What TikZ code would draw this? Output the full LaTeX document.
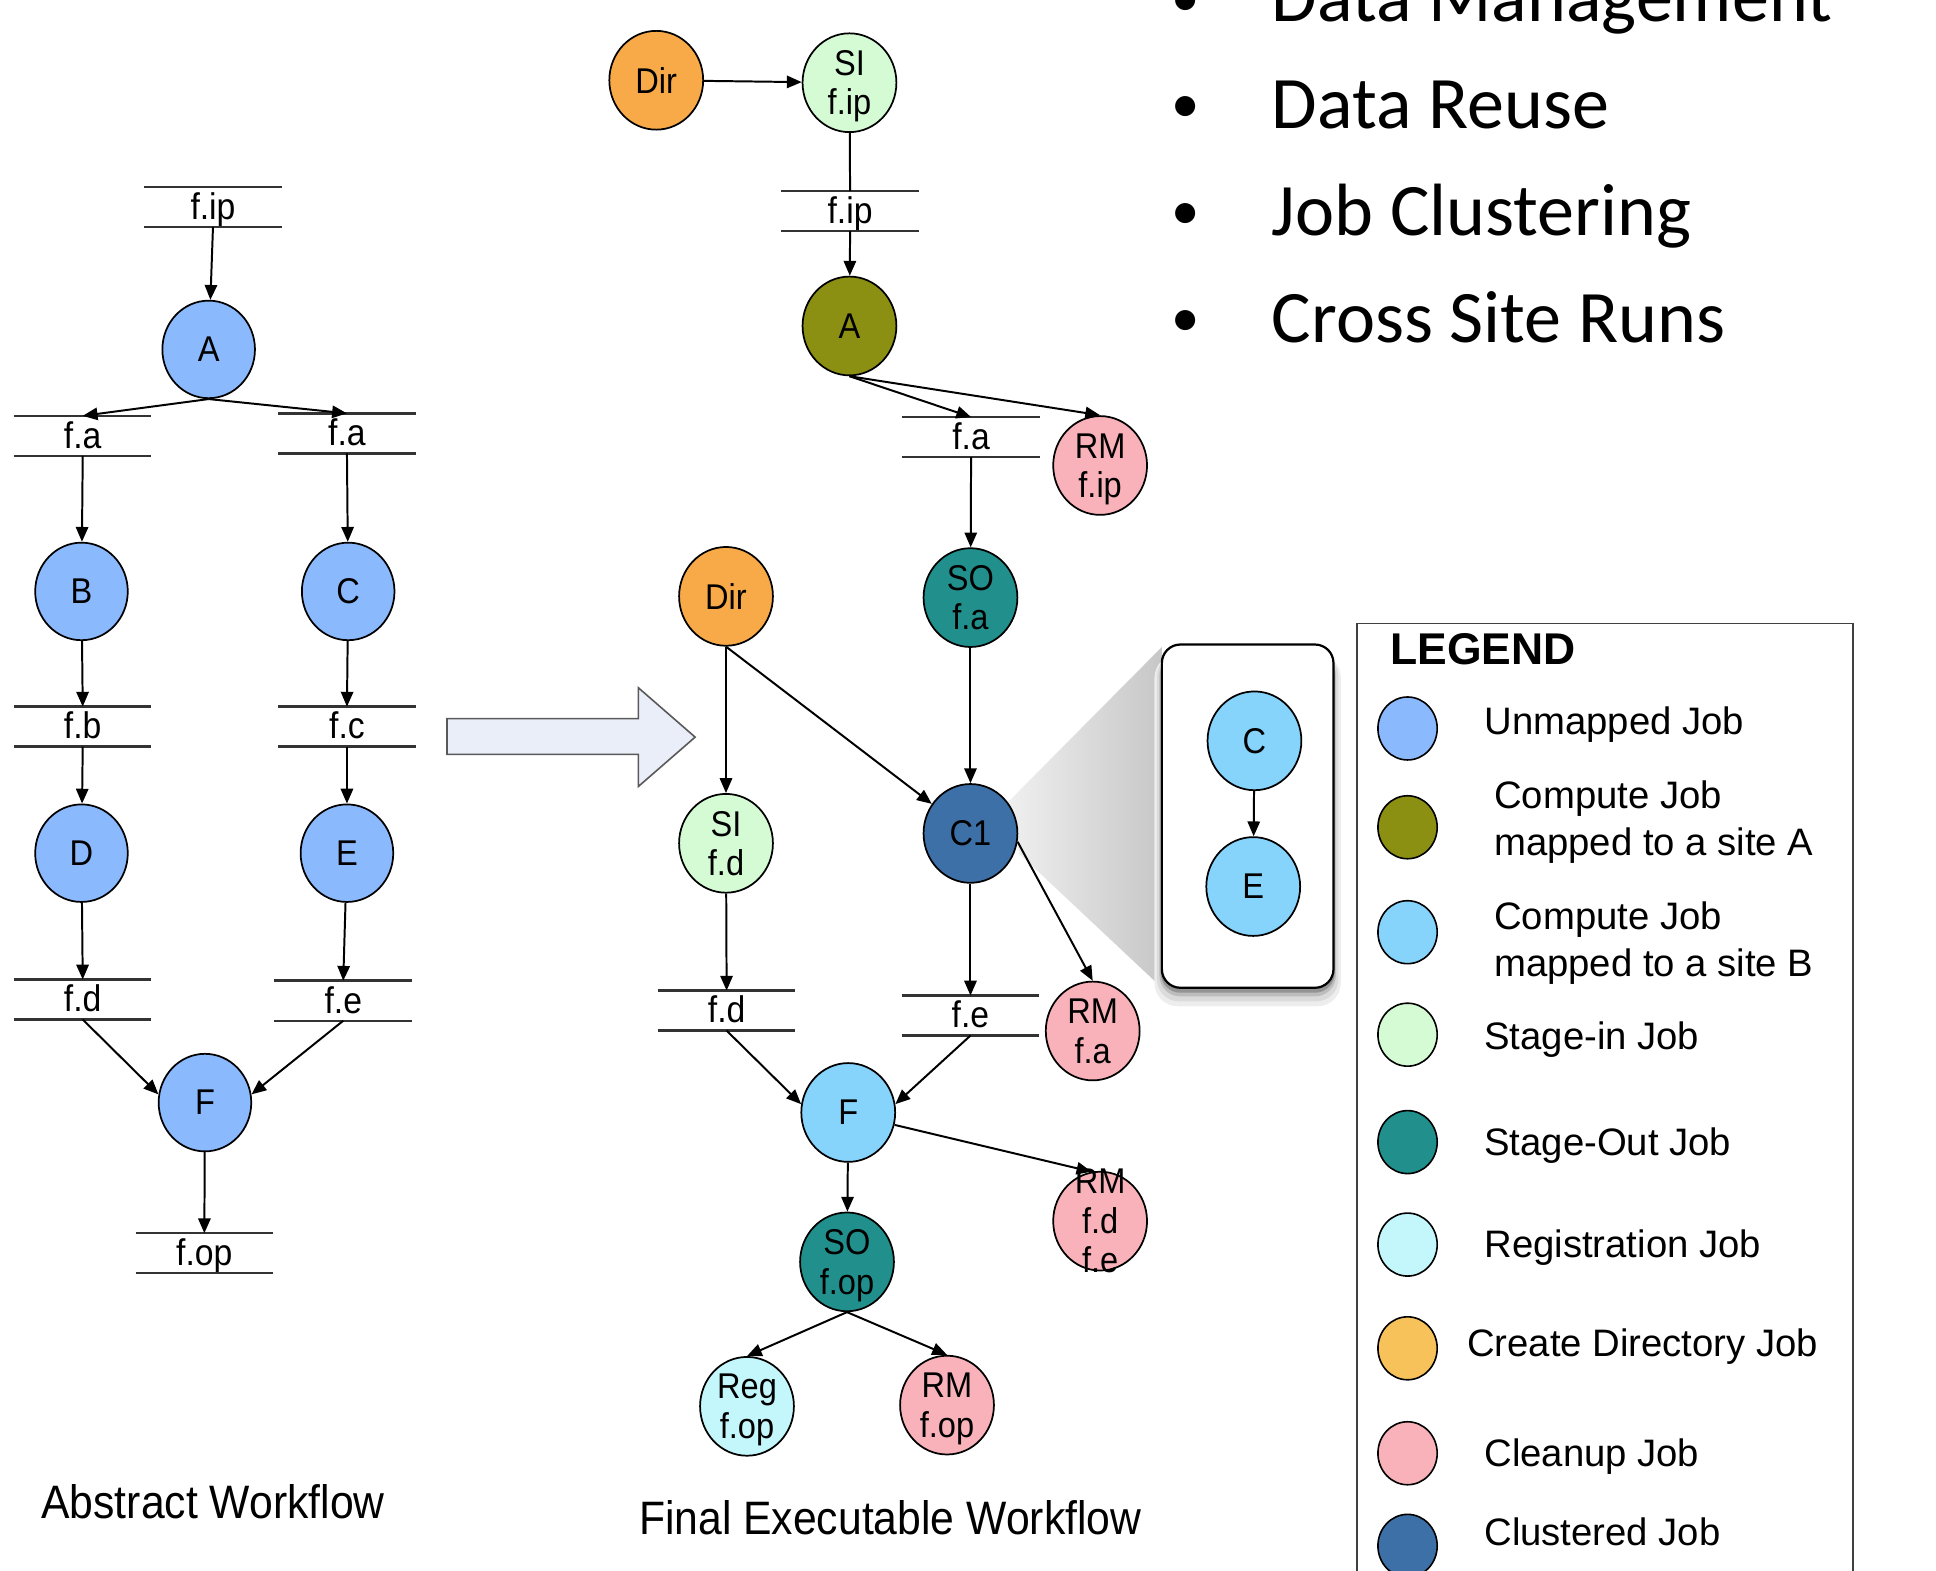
\documentclass[tikz,border=0pt]{standalone}
\usepackage{fontspec}
\setmainfont{Liberation Sans}
\newfontfamily\arl[FakeStretch=0.91]{Liberation Sans}
\newfontfamily\arw{Liberation Sans}
\newfontfamily\calib{Carlito}
\usetikzlibrary{shapes.geometric,arrows.meta}
\definecolor{cUnm}{RGB}{138,185,253}
\definecolor{cOlive}{RGB}{140,144,18}
\definecolor{cSiteB}{RGB}{134,211,251}
\definecolor{cIn}{RGB}{212,251,212}
\definecolor{cOut}{RGB}{33,144,141}
\definecolor{cReg}{RGB}{195,247,251}
\definecolor{cDir}{RGB}{248,170,72}
\definecolor{cDirL}{RGB}{248,194,90}
\definecolor{cRM}{RGB}{249,178,185}
\definecolor{cClu}{RGB}{62,112,168}
\definecolor{cArrow}{RGB}{234,238,248}
\begin{document}
\begin{tikzpicture}[x=1pt,y=-1pt,
  ln/.style={line width=1.6pt, black},
  arr/.style={ln, -{Triangle[length=12pt,width=10pt]}},
  ajob/.style={ellipse, draw=black, line width=1.4pt, fill=cUnm, minimum width=75pt, minimum height=79pt, inner sep=0pt, font=\arl\fontsize{29}{32}\selectfont},
  fjob/.style={ellipse, draw=black, line width=1.4pt, fill=#1, minimum width=76pt, minimum height=80pt, inner sep=0pt, font=\arl\fontsize{29}{32}\selectfont},
  jt/.style={font=\arl\fontsize{29}{32}\selectfont, align=center, inner sep=0pt, text depth=0pt},
  bar/.style={minimum width=111pt, minimum height=32pt, inner sep=0pt, text height=20pt, text depth=0pt, font=\arl\fontsize{30}{32}\selectfont},
  barline/.style={line width=2pt, black!80},
  leg/.style={ellipse, draw=black, line width=1.3pt, fill=#1, minimum width=48pt, minimum height=51pt, inner sep=0pt},
  legt/.style={anchor=base west, inner sep=0pt, font=\arw\fontsize{31}{37}\selectfont},
  bul/.style={font=\calib\fontsize{60}{72}\selectfont, inner sep=0pt, anchor=base west},
  bulc/.style={font=\calib\fontsize{46}{60}\selectfont, inner sep=0pt, anchor=base},
  captext/.style={font=\arl\fontsize{38}{44}\selectfont, inner sep=0pt, anchor=base},
]
\useasboundingbox (0,0) rectangle (1568,1272);
\clip (0,0) rectangle (1568,1272);

% bullet list
\node[bulc] (d1) at (960,13) {•};
\node[bulc] (d2) at (960,99.5) {•};
\node[bulc] (d3) at (960,186) {•};
\node[bulc] (d4) at (960,272.5) {•};
\node[bul] (b1) at (1030,17.5) {Data Management};
\node[bul] (b2) at (1030,104) {Data Reuse};
\node[bul] (b3) at (1030,190.5) {Job Clustering};
\node[bul] (b4) at (1030,277) {Cross Site Runs};

% big transform arrow
\draw[line width=1.3pt, draw=black!65, fill=cArrow] (362,582) -- (517,582) -- (517,557) -- (563,597) -- (517,637) -- (517,611) -- (362,611) -- cycle;

% zoom wedge, shadow, inset box
\shade[left color=black!6, right color=black!22] (816,650) -- (941,524) -- (941,800) -- (826,692) -- cycle;
\fill[black!7, rounded corners=19pt] (935,530) rectangle (1086,815);
\fill[black!14, rounded corners=18pt] (937,530) rectangle (1084,811);
\fill[black!26, rounded corners=17pt] (939,530) rectangle (1082,807);
\fill[black!42, rounded corners=16pt] (940,530) rectangle (1081,804);
\node[draw=black, line width=1.8pt, fill=white, rounded corners=15pt, minimum width=139pt, minimum height=278pt, inner sep=0pt] (inset) at (1010.5,661) {};

% legend frame
\draw[line width=1.5pt, black!75] (1099,1300) -- (1099,505) -- (1501,505) -- (1501,1300);
\node[font=\arw\bfseries\fontsize{36}{40}\selectfont, anchor=base west, inner sep=0pt] (legT) at (1126,538) {LEGEND};
\node[leg=cUnm] (l1) at (1140,590) {};
\node[leg=cOlive] (l2) at (1140,670) {};
\node[leg=cSiteB] (l3) at (1140,755) {};
\node[leg=cIn] (l4) at (1140,838) {};
\node[leg=cOut] (l5) at (1140,925) {};
\node[leg=cReg] (l6) at (1140,1008) {};
\node[leg=cDirL] (l7) at (1140,1092) {};
\node[leg=cRM] (l8) at (1140,1177) {};
\node[leg=cClu] (l9) at (1140,1252) {};
\node[legt] (t1) at (1202,595) {Unmapped Job};
\node[legt] (t2a) at (1210,655) {Compute Job};
\node[legt] (t2b) at (1210,692.5) {mapped to a site A};
\node[legt] (t3a) at (1210,753) {Compute Job};
\node[legt] (t3b) at (1210,790.5) {mapped to a site B};
\node[legt] (t4) at (1202,850) {Stage-in Job};
\node[legt] (t5) at (1202,935.5) {Stage-Out Job};
\node[legt] (t6) at (1202,1018.5) {Registration Job};
\node[legt] (t7) at (1188,1099) {Create Directory Job};
\node[legt] (t8) at (1202,1188) {Cleanup Job};
\node[legt] (t9) at (1202,1252) {Clustered Job};

% ---------- abstract workflow ----------
\node[bar] (afip) at (172.5,167.5) {f.ip};
\node[bar] (afa1) at (67,353) {f.a};
\node[bar] (afa2) at (281,351) {f.a};
\node[bar] (afb) at (67,588.5) {f.b};
\node[bar] (afc) at (281,588.5) {f.c};
\node[bar] (afd) at (67,809.5) {f.d};
\node[bar] (afe) at (278,810.5) {f.e};
\node[bar] (afop) at (165.5,1015) {f.op};
\foreach \b in {afip,afa1,afa2,afb,afc,afd,afe,afop}
  \draw[barline] (\b.north west) -- (\b.north east) (\b.south west) -- (\b.south east);

\node[ajob] (aA) at (169,283) {A};
\node[ajob] (aB) at (66,479) {B};
\node[ajob] (aC) at (282,479) {C};
\node[ajob] (aD) at (66,691) {D};
\node[ajob] (aE) at (281,691) {E};
\node[ajob] (aF) at (166,893) {F};

\draw[arr] (afip.south) -- (aA);
\draw[arr] (aA.south) -- (afa1.north);
\draw[arr] (aA.south) -- (afa2.north);
\draw[arr] (afa1.south) -- (aB);
\draw[arr] (afa2.south) -- (aC);
\draw[arr] (aB) -- (afb.north);
\draw[arr] (aC) -- (afc.north);
\draw[arr] (afb.south) -- (aD);
\draw[arr] (afc.south) -- (aE);
\draw[arr] (aD) -- (afd.north);
\draw[arr] (aE) -- (afe.north);
\draw[arr] (afd.south) -- (aF.170);
\draw[arr] (afe.south) -- (aF.10);
\draw[arr] (aF) -- (afop.north);

\node[captext] (capA) at (172.5,1230) {Abstract Workflow};

% ---------- final executable workflow ----------
\node[bar] (ffip) at (688.5,171) {f.ip};
\node[bar] (ffa) at (786.5,354) {f.a};
\node[bar] (ffd) at (588.5,818.5) {f.d};
\node[bar] (ffe) at (786,822.5) {f.e};
\foreach \b in {ffip,ffa,ffd,ffe}
  \draw[barline] (\b.north west) -- (\b.north east) (\b.south west) -- (\b.south east);

\node[fjob=cDir] (dir1) at (531.5,65) {Dir};
\node[fjob=cIn, label={[jt]center:{SI\\f.ip}}] (sip) at (688,67) {};
\node[fjob=cOlive] (oA) at (688,264) {A};
\node[fjob=cRM, label={[jt]center:{RM\\f.ip}}] (rmip) at (891,377) {};
\node[fjob=cOut, label={[jt]center:{SO\\f.a}}] (sofa) at (786,484) {};
\node[fjob=cDir] (dir2) at (588,483) {Dir};
\node[fjob=cIn, label={[jt]center:{SI\\f.d}}] (sifd) at (588,683) {};
\node[fjob=cClu] (c1) at (786,675) {C1};
\node[fjob=cRM, label={[jt]center:{RM\\f.a}}] (rmfa) at (885,835) {};
\node[fjob=cSiteB] (fF) at (687,901) {F};
\node[fjob=cRM, label={[jt]center:{RM\\f.d\\f.e}}] (rm3) at (891,989) {};
\node[fjob=cOut, label={[jt]center:{SO\\f.op}}] (sop) at (686,1022) {};
\node[fjob=cReg, label={[jt]center:{Reg\\f.op}}] (reg) at (605,1139) {};
\node[fjob=cRM, label={[jt]center:{RM\\f.op}}] (rmop) at (767,1138) {};

\draw[arr] (dir1) -- (sip);
\draw[ln] (sip) -- (ffip.north);
\draw[arr] (ffip.south) -- (oA);
\draw[arr] (oA.south) -- (ffa.north);
\draw[arr] (oA.south) -- (rmip.north);
\draw[arr] (ffa.south) -- (sofa);
\draw[arr] (sofa) -- (c1);
\draw[arr] (dir2) -- (sifd);
\draw[arr] (dir2.south) -- (c1);
\draw[arr] (sifd) -- (ffd.north);
\draw[arr] (c1) -- (ffe.north);
\draw[arr] (c1.-10) -- (rmfa.north);
\draw[arr] (ffd.south) -- (fF.170);
\draw[arr] (ffe.south) -- (fF.10);
\draw[arr] (fF.-15) -- (rm3.100);
\draw[arr] (fF) -- (sop);
\draw[arr] (sop.south) -- (reg.north);
\draw[arr] (sop.south) -- (rmop.north);

% inset nodes
\node[fjob=cSiteB] (iC) at (1016,600) {C};
\node[fjob=cSiteB] (iE) at (1015,718) {E};
\draw[arr] (iC) -- (iE);

\node[captext] (capF) at (721,1243) {Final Executable Workflow};
\end{tikzpicture}
\end{document}
